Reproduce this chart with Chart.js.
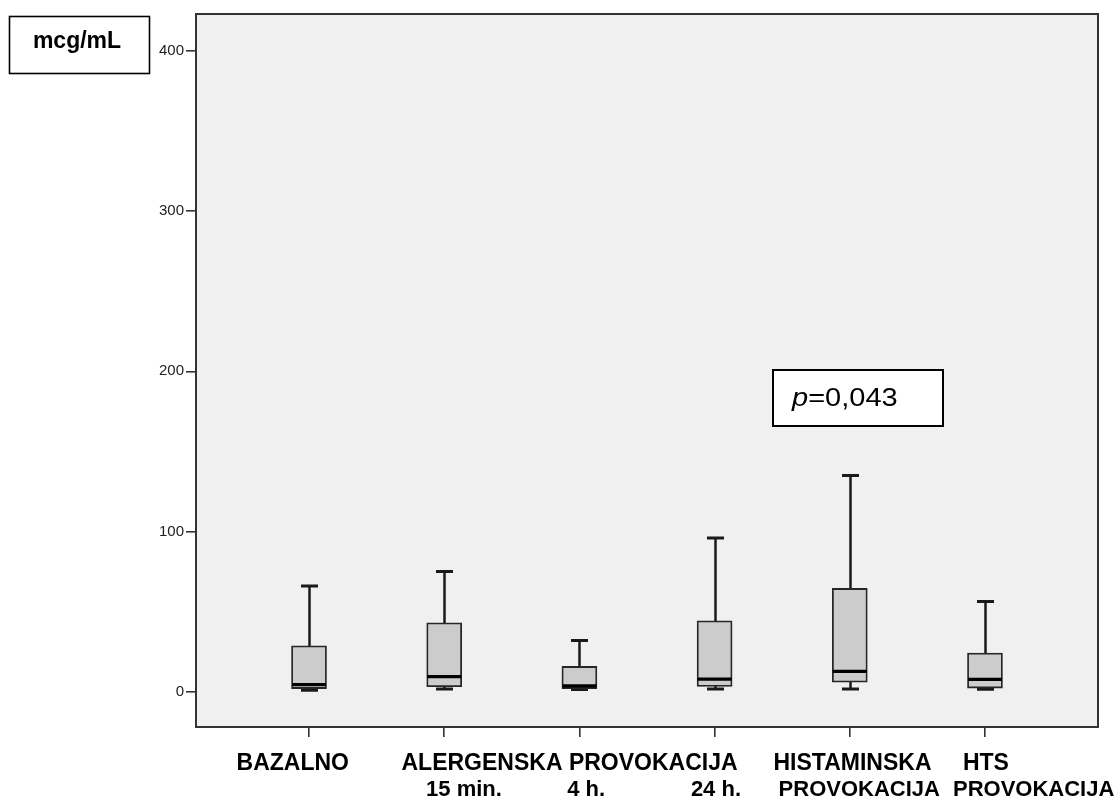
<!DOCTYPE html>
<html>
<head>
<meta charset="utf-8">
<script src="https://cdn.jsdelivr.net/npm/chart.js@4.4.1/dist/chart.umd.min.js"></script>
<style>
  html, body { margin: 0; padding: 0; background: #fff; }
  #wrap { width: 1117px; height: 801px; }
</style>
</head>
<body>
<div id="wrap"><canvas id="box-chart"></canvas></div>
<script>
// 그룹 (x축 위치 0..5)
const groups = ["BAZALNO", "ALERGENSKA 15 min.", "ALERGENSKA 4 h.", "ALERGENSKA 24 h.", "HISTAMINSKA", "HTS"];

// 박스플롯 값 (mcg/mL)
const whiskerMin = [1, 1.7, 1.4, 1.7, 1.7, 1.5];
const q1 = [2, 3.1, 2, 3.3, 6, 2.3];
const median = [4.4, 9.4, 3.7, 7.9, 12.7, 7.7];
const q3 = [28.7, 43, 15.8, 44.3, 64.5, 24.1];
const whiskerMax = [66, 75, 32, 96, 135, 56.4];

// 축 눈금
const yTicks = [0, 100, 200, 300, 400];

// 텍스트
const labelRow1 = ["BAZALNO", "ALERGENSKA PROVOKACIJA", "HISTAMINSKA", "HTS"];
const labelRow2 = ["15 min.", "4 h.", "24 h.", "PROVOKACIJA", "PROVOKACIJA"];
const unitLabel = "mcg/mL";
const pLetter = "p";
const pValue = "=0,043";

const FONT = "Arial, 'Liberation Sans', sans-serif";

// 수염, 중앙값, 프레임, 텍스트 그리기
const boxPlotExtras = {
  id: "boxPlotExtras",
  beforeDraw(chart) {
    const { ctx, chartArea: a } = chart;
    ctx.save();
    ctx.fillStyle = "#f0f0f0";
    ctx.fillRect(a.left, a.top, a.right - a.left, a.bottom - a.top);
    ctx.restore();
  },
  beforeDatasetsDraw(chart) {
    const { ctx, scales } = chart;
    const x = scales.x, y = scales.y;
    ctx.save();
    ctx.strokeStyle = "#1a1a1a";
    groups.forEach((g, i) => {
      const px = Math.round(x.getPixelForValue(i)) + 0.5;
      const top = y.getPixelForValue(whiskerMax[i]);
      const bot = y.getPixelForValue(whiskerMin[i]);
      ctx.lineWidth = 2.5;
      ctx.beginPath();
      ctx.moveTo(px, top);
      ctx.lineTo(px, bot);
      ctx.stroke();
      ctx.lineWidth = 3;
      ctx.beginPath();
      ctx.moveTo(px - 8.5, top);
      ctx.lineTo(px + 8.5, top);
      ctx.moveTo(px - 8.5, bot);
      ctx.lineTo(px + 8.5, bot);
      ctx.stroke();
    });
    ctx.restore();
  },
  afterDatasetsDraw(chart) {
    const { ctx, scales } = chart;
    const x = scales.x, y = scales.y;
    ctx.save();
    ctx.strokeStyle = "#000";
    ctx.lineWidth = 3.2;
    groups.forEach((g, i) => {
      const px = x.getPixelForValue(i);
      const py = y.getPixelForValue(median[i]);
      ctx.beginPath();
      ctx.moveTo(px - 17, py);
      ctx.lineTo(px + 17, py);
      ctx.stroke();
    });
    ctx.restore();
  },
  afterDraw(chart) {
    const { ctx, chartArea: a, scales } = chart;
    const x = scales.x;
    ctx.save();

    // 프레임
    ctx.strokeStyle = "#333";
    ctx.lineWidth = 2;
    ctx.strokeRect(a.left, a.top, a.right - a.left, a.bottom - a.top);

    // x축 레이블 (두 줄)
    const row1Pos = [-0.12, 1.927, 4.02, 5.007];
    const row2Pos = [1.146, 2.05, 3.01, 4.07, 5.36];
    ctx.fillStyle = "#000";
    ctx.font = "bold 23px " + FONT;
    ctx.textAlign = "center";
    ctx.textBaseline = "alphabetic";
    labelRow1.forEach((t, i) => ctx.fillText(t, x.getPixelForValue(row1Pos[i]), a.bottom + 43));
    ctx.font = "bold 22px " + FONT;
    labelRow2.forEach((t, i) => ctx.fillText(t, x.getPixelForValue(row2Pos[i]), a.bottom + 69));

    // 단위 박스
    ctx.fillStyle = "#fff";
    ctx.fillRect(9, 16, 141, 58);
    ctx.strokeStyle = "#000";
    ctx.lineWidth = 1.6;
    ctx.strokeRect(9.5, 16.5, 140, 57);
    ctx.fillStyle = "#000";
    ctx.font = "bold 23px " + FONT;
    ctx.fillText(unitLabel, 77, 48);

    // p 값 박스
    ctx.fillStyle = "#fff";
    ctx.fillRect(772, 369, 171, 57);
    ctx.lineWidth = 2;
    ctx.strokeRect(773, 370, 170, 56);
    ctx.fillStyle = "#000";
    ctx.textAlign = "left";
    ctx.translate(792, 406);
    ctx.scale(1.16, 1);
    ctx.font = "italic 25px " + FONT;
    ctx.fillText(pLetter, 0, 0);
    const pw = ctx.measureText(pLetter).width;
    ctx.font = "25px " + FONT;
    ctx.fillText(pValue, pw, 0);
    ctx.restore();
  },
};

new Chart(document.getElementById("box-chart"), {
  type: "bar",
  data: {
    datasets: [
      {
        label: "IQR",
        data: groups.map((g, i) => ({ x: i, y: [q1[i], q3[i]] })),
        backgroundColor: "#cccccc",
        borderColor: "#262626",
        borderWidth: 1.8,
        borderSkipped: false,
        barThickness: 35,
        grouped: false,
      },
    ],
  },
  options: {
    responsive: true,
    maintainAspectRatio: false,
    animation: false,
    layout: { padding: { top: 14, right: 19, left: 0, bottom: 0 } },
    plugins: {
      legend: { display: false },
      tooltip: { enabled: false },
    },
    scales: {
      x: {
        type: "linear",
        offset: false,
        min: -0.836,
        max: 5.836,
        afterBuildTicks: (scale) => {
          scale.ticks = groups.map((g, i) => ({ value: i }));
        },
        afterFit: (scale) => {
          scale.height = 74;
        },
        ticks: { display: false },
        grid: { offset: false, drawOnChartArea: false, drawTicks: true, tickLength: 10, color: "#333", lineWidth: 1.6 },
        border: { display: false },
      },
      y: {
        type: "linear",
        min: -22,
        max: 423,
        afterBuildTicks: (scale) => {
          scale.ticks = yTicks.map((v) => ({ value: v }));
        },
        afterFit: (scale) => {
          scale.width = 196;
        },
        ticks: { color: "#222", padding: 2, font: { family: FONT, size: 15 } },
        grid: { drawOnChartArea: false, drawTicks: true, tickLength: 10, color: "#333", lineWidth: 1.6 },
        border: { display: false },
      },
    },
  },
  plugins: [boxPlotExtras],
});
</script>
</body>
</html>
